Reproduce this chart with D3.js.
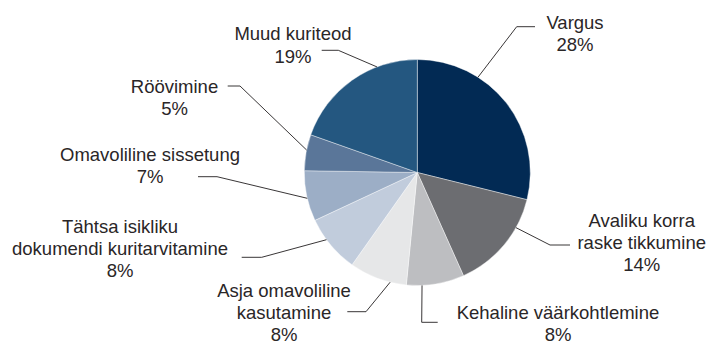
<!DOCTYPE html>
<html>
<head>
<meta charset="utf-8">
<script src="https://cdn.jsdelivr.net/npm/d3@7/dist/d3.min.js"></script>
<style>
  html, body { margin: 0; padding: 0; background: #ffffff; }
  svg { display: block; }
  text { font-family: "Liberation Sans", Arial, Helvetica, sans-serif; font-size: 18.5px; fill: #2a2627; }
</style>
</head>
<body>
<svg id="chart" width="708" height="342"></svg>
<script>
// Crime categories and their shares (%)
const categories = [
  "Vargus",
  "Avaliku korra raske tikkumine",
  "Kehaline väärkohtlemine",
  "Asja omavoliline kasutamine",
  "Tähtsa isikliku dokumendi kuritarvitamine",
  "Omavoliline sissetung",
  "Röövimine",
  "Muud kuriteod"
];
const shares = [28, 14, 8, 8, 8, 7, 5, 19];

// Label text broken into lines as shown next to each slice
const labelLines = [
  ["Vargus"],
  ["Avaliku korra", "raske tikkumine"],
  ["Kehaline väärkohtlemine"],
  ["Asja omavoliline", "kasutamine"],
  ["Tähtsa isikliku", "dokumendi kuritarvitamine"],
  ["Omavoliline sissetung"],
  ["Röövimine"],
  ["Muud kuriteod"]
];

const colors = ["#022a54", "#6c6d71", "#bdbec1", "#e6e7e8", "#c1ccdc", "#9caec6", "#5a7699", "#245780"];

// Layout of the pie and of the call-out labels
const cx = 417.3, cy = 172.5, radius = 113;
const lineH = 22.3;
const callouts = [
  { anchor: 32.5,  elbow: [516.7, 26.7],  end: [535, 26.7],    tx: 575,   ty: 21.7 },
  { anchor: 119.2, elbow: [550, 245],     end: [570, 245],     tx: 641.7, ty: 219.5 },
  { anchor: 177.6, elbow: [421.7, 322.3], end: [437.7, 322.3], tx: 558,   ty: 311.7 },
  { anchor: 193.9, elbow: [366, 311.7],   end: [347.3, 311.7], tx: 284,   ty: 289.7 },
  { anchor: 233.5, elbow: [261.7, 257.3], end: [241.7, 257.3], tx: 120,   ty: 225.5 },
  { anchor: 256.8, elbow: [217, 176.7],   end: [198, 176.7],   tx: 150,   ty: 154 },
  { anchor: 281.5, elbow: [240, 86],      end: [227.7, 86],    tx: 174.5, ty: 86 },
  { anchor: 339.1, elbow: [338.3, 50.3],  end: [321.7, 50.3],  tx: 293,   ty: 33.3 }
];

const data = categories.map((c, i) => ({ name: c, value: shares[i], lines: labelLines[i], color: colors[i], co: callouts[i] }));

const svg = d3.select("#chart");
const g = svg.append("g").attr("transform", `translate(${cx},${cy})`);

const pie = d3.pie().sort(null).value(d => d.value);
const arc = d3.arc().innerRadius(0).outerRadius(radius);
const arcs = pie(data);

g.selectAll("path.slice")
  .data(arcs)
  .enter().append("path")
  .attr("class", "slice")
  .attr("d", arc)
  .attr("fill", d => d.data.color)
  .attr("stroke", "#ffffff")
  .attr("stroke-width", 0.4);

// Leader lines: from the rim of each slice to an elbow, then horizontal toward the label
const rad = deg => deg * Math.PI / 180;
svg.selectAll("polyline.leader")
  .data(arcs)
  .enter().append("polyline")
  .attr("class", "leader")
  .attr("fill", "none")
  .attr("stroke", "#231f20")
  .attr("stroke-width", 0.9)
  .attr("points", d => {
    const a = rad(d.data.co.anchor);
    const sx = cx + radius * Math.sin(a);
    const sy = cy - radius * Math.cos(a);
    return [[sx, sy], d.data.co.elbow, d.data.co.end].map(p => p.join(",")).join(" ");
  });

// Labels: category lines followed by the share
const labels = svg.selectAll("text.label")
  .data(arcs)
  .enter().append("text")
  .attr("class", "label")
  .attr("text-anchor", "middle")
  .attr("dominant-baseline", "central");

labels.each(function(d) {
  const t = d3.select(this);
  const lines = d.data.lines.concat([d.data.value + "%"]);
  lines.forEach((ln, i) => {
    t.append("tspan")
      .attr("x", d.data.co.tx)
      .attr("y", d.data.co.ty + i * lineH)
      .text(ln);
  });
});
</script>
</body>
</html>
